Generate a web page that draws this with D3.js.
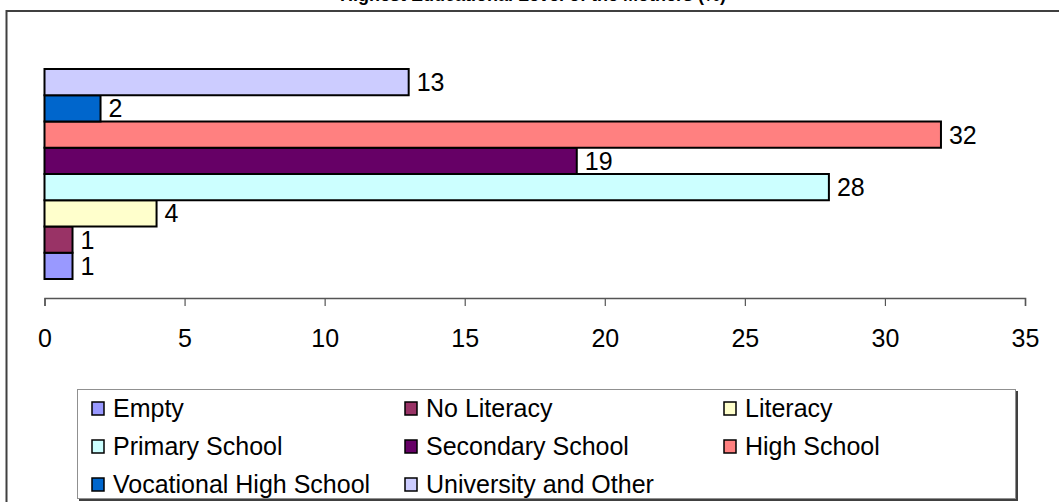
<!DOCTYPE html>
<html>
<head>
<meta charset="utf-8">
<script src="https://cdn.jsdelivr.net/npm/d3@7"></script>
<style>
  html, body { margin: 0; padding: 0; background: #fff; }
  svg { display: block; font-family: "Liberation Sans", Arial, sans-serif; }
</style>
</head>
<body>
<svg id="chart" width="1059" height="502"></svg>
<script>
// Education levels, drawn bottom-to-top in this order
const categories = ["Empty", "No Literacy", "Literacy", "Primary School",
  "Secondary School", "High School", "Vocational High School", "University and Other"];
const values = [1, 1, 4, 28, 19, 32, 2, 13];
const colors = ["#9999FF", "#993366", "#FFFFCC", "#CCFFFF",
  "#660066", "#FF8080", "#0066CC", "#CCCCFF"];
const xTicks = [0, 5, 10, 15, 20, 25, 30, 35];
const title = "Highest Educational Level of the Mothers (%)";

const svg = d3.select("#chart");

// Title (sits above the frame)
svg.append("text")
  .attr("x", 533).attr("y", 1)
  .attr("text-anchor", "middle")
  .attr("font-size", 18).attr("font-weight", "bold")
  .text(title);

// Chart frame
svg.append("path")
  .attr("d", "M6.5,502 V11 H1059")
  .attr("fill", "none").attr("stroke", "#404040").attr("stroke-width", 2);

const x = d3.scaleLinear().domain([0, 35]).range([44.5, 1025]);
const y = d3.scaleBand().domain(d3.range(categories.length).reverse())
  .range([69, 279]).paddingInner(0);

// Bars
svg.append("g").selectAll("rect")
  .data(values)
  .join("rect")
  .attr("x", x(0))
  .attr("y", (d, i) => y(i))
  .attr("width", d => x(d) - x(0))
  .attr("height", y.bandwidth())
  .attr("fill", (d, i) => colors[i])
  .attr("stroke", "#000").attr("stroke-width", 2);

// Value labels
svg.append("g").selectAll("text")
  .data(values)
  .join("text")
  .attr("x", d => x(d) + 8)
  .attr("y", (d, i) => y(i) + y.bandwidth() / 2)
  .attr("dy", "0.36em")
  .attr("font-size", 25)
  .text(d => d);

// X axis
const axis = d3.axisBottom(x).tickValues(xTicks).tickSize(8).tickPadding(23);
const ax = svg.append("g").attr("transform", "translate(0,298)").call(axis);
ax.select(".domain").attr("stroke", "#555").attr("stroke-width", 1.5);
ax.selectAll(".tick line").attr("stroke", "#555").attr("stroke-width", 1.2);
ax.selectAll(".tick text").attr("font-size", 25).attr("fill", "#000")
  .attr("font-family", "'Liberation Sans', Arial, sans-serif");

// Legend
const lg = svg.append("g");
lg.append("rect").attr("x", 79).attr("y", 391).attr("width", 939).attr("height", 110)
  .attr("fill", "#404040");
lg.append("rect").attr("x", 77.5).attr("y", 389.5).attr("width", 938).attr("height", 109)
  .attr("fill", "#fff").attr("stroke", "#909090").attr("stroke-width", 1);

const colX = [92, 405, 724];
const rowY = [408, 446, 484];
const items = lg.selectAll("g.item")
  .data(categories)
  .join("g")
  .attr("class", "item")
  .attr("transform", (d, i) => `translate(${colX[i % 3]},${rowY[Math.floor(i / 3)]})`);
items.append("rect")
  .attr("x", 0).attr("y", -6).attr("width", 12).attr("height", 13)
  .attr("fill", (d, i) => colors[i])
  .attr("stroke", "#000").attr("stroke-width", 1.5);
items.append("text")
  .attr("x", 21).attr("y", 0).attr("dy", "0.36em")
  .attr("font-size", 25)
  .text(d => d);
</script>
</body>
</html>
